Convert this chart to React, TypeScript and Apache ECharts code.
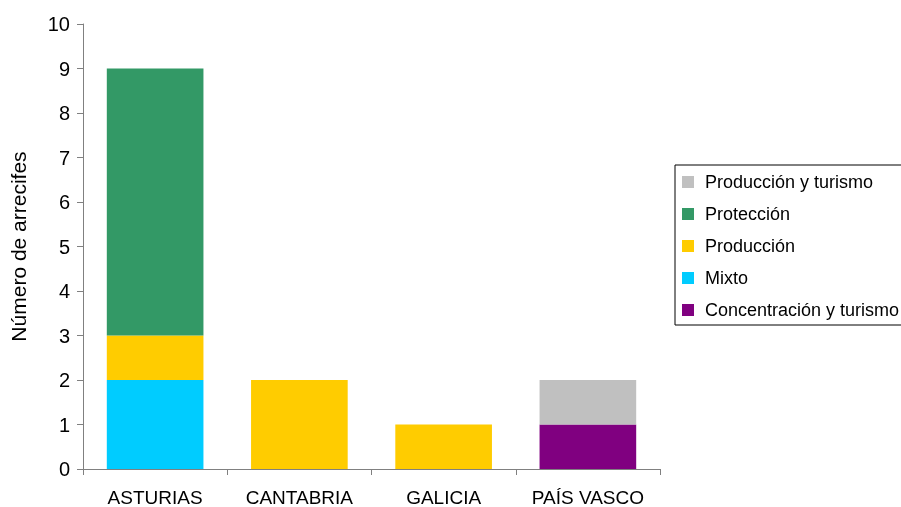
import React, { useEffect, useRef } from "react";
import * as echarts from "echarts";

const categories = ["ASTURIAS", "CANTABRIA", "GALICIA", "PAÍS VASCO"];
const concentracionTurismo = [null, null, null, 1];
const mixto = [2, null, null, null];
const produccion = [1, 2, 1, null];
const proteccion = [6, null, null, null];
const produccionTurismo = [null, null, null, 1];
const legendOrder = ["Producción y turismo", "Protección", "Producción", "Mixto", "Concentración y turismo"];

const FONT = "'Liberation Sans', Arial, sans-serif";

export default function App() {
  const ref = useRef<HTMLDivElement>(null);
  useEffect(() => {
    if (!ref.current) return;
    const chart = echarts.init(ref.current, undefined, { renderer: "svg" });
    const mk = (name: string, data: (number | null)[], color: string) => ({
      name,
      type: "bar",
      stack: "total",
      data,
      barCategoryGap: "33%",
      itemStyle: { color },
    });
    chart.setOption({
      animation: false,
      textStyle: { fontFamily: FONT },
      grid: { left: 83, right: 241, top: 24, bottom: 38 },
      legend: {
        orient: "vertical",
        left: 675,
        top: 165,
        data: legendOrder,
        itemWidth: 12,
        itemHeight: 12,
        itemGap: 14,
        padding: [8, 40, 6, 7],
        borderColor: "#000",
        borderWidth: 1,
        icon: "rect",
        textStyle: { fontSize: 18, lineHeight: 18, color: "#000", fontFamily: FONT, padding: [0, 0, 0, 6] },
      },
      xAxis: {
        type: "category",
        data: categories,
        axisLine: { lineStyle: { color: "#808080", width: 1 } },
        axisTick: { show: true, alignWithLabel: false, length: 6, lineStyle: { color: "#808080" } },
        axisLabel: { fontSize: 19, color: "#000", margin: 19, interval: 0, fontFamily: FONT },
      },
      yAxis: {
        type: "value",
        min: 0,
        max: 10,
        interval: 1,
        name: "Número de arrecifes",
        nameLocation: "middle",
        nameGap: 54,
        nameTextStyle: { fontSize: 21, color: "#000", fontFamily: FONT },
        axisLine: { show: true, lineStyle: { color: "#808080", width: 1 } },
        axisTick: { show: true, length: 6, lineStyle: { color: "#808080" } },
        axisLabel: { fontSize: 20, color: "#000", margin: 13, fontFamily: FONT },
        splitLine: { show: false },
      },
      series: [
        mk("Concentración y turismo", concentracionTurismo, "#800080"),
        mk("Mixto", mixto, "#00CCFF"),
        mk("Producción", produccion, "#FFCC00"),
        mk("Protección", proteccion, "#339966"),
        mk("Producción y turismo", produccionTurismo, "#C0C0C0"),
      ],
    });
    return () => chart.dispose();
  }, []);
  return <div ref={ref} style={{ position: "fixed", left: 0, top: 0, width: 901, height: 507 }} />;
}
